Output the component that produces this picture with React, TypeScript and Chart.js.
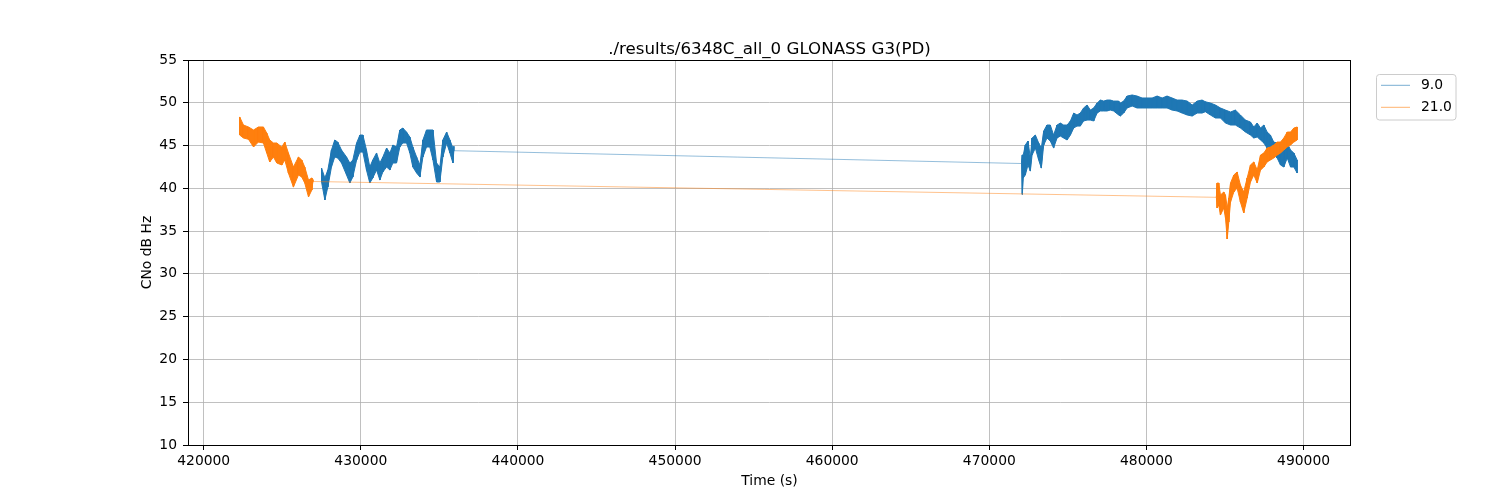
import React, { useEffect, useRef } from "react";
import { Chart, registerables } from "chart.js";

Chart.register(...registerables);

const chartTitle = "./results/6348C_all_0 GLONASS G3(PD)";
const xLabel = "Time (s)";
const yLabel = "CNo dB Hz";
const seriesNames = ["9.0", "21.0"];
const seriesColors = ["#1f77b4", "#ff7f0e"];
const xTicks = [420000, 430000, 440000, 450000, 460000, 470000, 480000, 490000];
const yTicks = [10, 15, 20, 25, 30, 35, 40, 45, 50, 55];
const xMin = 419000;
const xMax = 493018;
const yMin = 10;
const yMax = 55;

// Series "9.0": time of each sample step, upper and lower edge of the noisy trace
const g9Time = [
  427500, 427710, 427900, 428130, 428340, 428530, 428770, 429090, 429300, 429490,
  429730, 429940, 430130, 430360, 430570, 430760, 431000, 431210, 431400, 431640,
  431850, 432040, 432270, 432480, 432670, 432910, 433120, 433310, 433550, 433760,
  433950, 434180, 434390, 434590, 434820, 435030, 435220, 435460, 435670, 435860,
  435920,
  472050, 472100, 472160, 472290, 472460, 472610, 472720, 472930, 473140, 473310,
  473460, 473670, 473880, 474090, 474310, 474520, 474730, 474950, 475160, 475370,
  475580, 475790, 476000, 476220, 476430, 476640, 476860, 477070, 477280, 477490,
  477700, 477910, 478230, 478340, 478550, 478770, 479090, 479400, 479720, 480040,
  480360, 480680, 481000, 481310, 481630, 481950, 482270, 482590, 482910, 483230,
  483540, 483750, 484070, 484390, 484710, 485030, 485350, 485660, 485980, 486300,
  486620, 486830, 487050, 487260, 487470, 487680, 487890, 488100, 488320, 488530,
  488740, 488960, 489170, 489380, 489590,
];
const g9High = [
  42.37, 41.21, 42.14, 44.48, 45.65, 45.41, 44.48, 43.66, 42.96, 43.31,
  45.3, 46.23, 46.23, 44.48, 42.49, 43.31, 44.13, 42.96, 43.66, 44.71,
  44.13, 45.06, 44.83, 46.82, 47.05, 46.58, 46.0, 44.83, 43.66, 42.73,
  45.65, 46.82, 46.82, 46.82, 42.96, 42.49, 45.65, 46.58, 45.65, 44.71,
  44.9,
  42.9, 43.9, 43.89, 45.06, 45.53, 43.54, 45.88, 46.23, 45.3, 44.71,
  46.7, 47.4, 47.4, 46.23, 47.4, 47.63, 47.4, 47.4, 47.87, 48.8,
  48.57, 48.8, 49.39, 49.74, 49.15, 49.39, 49.97, 50.32, 50.2, 50.32,
  50.32, 50.2, 50.2, 49.97, 50.2, 50.79, 50.91, 50.79, 50.56, 50.56,
  50.56, 50.79, 50.56, 50.79, 50.56, 50.32, 50.32, 50.2, 49.74, 50.2,
  50.32, 50.12, 49.97, 49.74, 49.39, 49.15, 48.92, 49.15, 48.57, 47.98,
  47.75, 47.17, 47.63, 47.05, 47.4, 46.58, 46.23, 45.41, 45.3, 44.83,
  44.48, 45.3, 44.48, 44.13, 43.31,
];
const g9Low = [
  40.74, 38.64, 40.15, 42.49, 43.66, 43.54, 42.96, 41.56, 40.62, 41.32,
  43.31, 44.24, 44.24, 42.14, 40.62, 41.21, 42.14, 40.97, 41.91, 42.49,
  42.14, 42.96, 42.96, 44.83, 45.3, 45.3, 44.13, 42.49, 41.79, 41.32,
  43.66, 44.83, 44.83, 43.31, 40.74, 40.74, 43.66, 45.3, 44.13, 42.96,
  44.4,
  42.9, 39.3, 41.21, 41.56, 42.73, 42.02, 43.89, 44.71, 43.31, 42.37,
  45.06, 45.88, 45.53, 44.71, 45.88, 46.11, 45.88, 45.65, 46.23, 47.05,
  47.28, 47.28, 47.87, 47.98, 47.98, 47.87, 48.8, 49.04, 49.04, 49.04,
  49.15, 49.04, 48.57, 48.45, 48.8, 49.39, 49.62, 49.39, 49.39, 49.39,
  49.39, 49.39, 49.39, 49.39, 49.15, 49.04, 48.8, 48.57, 48.45, 48.8,
  48.8, 48.95, 48.57, 48.22, 48.22, 47.63, 47.4, 47.4, 47.05, 46.58,
  46.23, 45.88, 46.0, 45.65, 45.3, 44.71, 44.13, 43.89, 43.54, 42.73,
  42.49, 43.54, 42.49, 42.49, 41.79,
];

// Series "21.0"
const g21Time = [
  422290, 422530, 422850, 423170, 423480, 423800, 424010, 424200, 424440, 424650,
  424970, 425160, 425390, 425710, 426030, 426240, 426430, 426670, 426880, 426950,
  484450, 484500, 484600, 484710, 484920, 485030, 485140, 485240, 485350, 485560,
  485770, 485980, 486190, 486410, 486620, 486830, 487050, 487260, 487470, 487680,
  487890, 488100, 488320, 488530, 488740, 488960, 489170, 489380, 489590,
];
const g21High = [
  48.34, 47.4, 47.17, 46.82, 47.17, 47.17, 46.47, 45.65, 45.3, 45.3,
  44.83, 45.41, 44.13, 42.49, 43.66, 43.31, 42.49, 40.97, 41.21, 41.0,
  38.95, 40.62, 40.62, 39.22, 39.57, 39.22, 37.7, 38.87, 40.62, 41.56,
  41.91, 40.39, 39.57, 41.21, 42.73, 43.08, 42.14, 43.89, 44.13, 44.71,
  44.83, 45.06, 45.41, 45.41, 45.88, 46.58, 46.58, 47.05, 47.17,
];
const g21Low = [
  46.23, 45.88, 45.73, 44.83, 45.41, 45.3, 44.13, 43.08, 43.66, 42.96,
  42.73, 43.31, 41.79, 40.15, 41.56, 41.32, 40.62, 38.99, 39.8, 40.8,
  38.95, 37.7, 38.05, 36.88, 37.7, 36.53, 34.08, 36.06, 38.4, 39.57,
  40.04, 38.4, 37.12, 38.87, 40.74, 41.56, 40.62, 42.14, 42.49, 43.08,
  43.31, 43.54, 43.89, 44.13, 44.48, 44.83, 45.06, 45.41, 45.65,
];

const FONT = "'DejaVu Sans', Verdana, sans-serif";
const GAP = 5000;

type P = { x: number; y: number };

function tracePoints(t: number[], hi: number[], lo: number[]): P[] {
  const pts: P[] = [];
  for (let i = 0; i < t.length; i++) {
    pts.push({ x: t[i], y: hi[i] });
    pts.push({ x: t[i], y: lo[i] });
  }
  return pts;
}

// edge polyline of the band, broken (NaN) where the recording has a gap
function edgePoints(t: number[], v: number[]): P[] {
  const pts: P[] = [];
  for (let i = 0; i < t.length; i++) {
    if (i > 0 && t[i] - t[i - 1] > GAP) pts.push({ x: (t[i] + t[i - 1]) / 2, y: NaN });
    pts.push({ x: t[i], y: v[i] });
  }
  return pts;
}

function hexA(hex: string, a: number) {
  const r = parseInt(hex.slice(1, 3), 16);
  const g = parseInt(hex.slice(3, 5), 16);
  const b = parseInt(hex.slice(5, 7), 16);
  return `rgba(${r},${g},${b},${a})`;
}

const decorPlugin = {
  id: "decor",
  afterDraw(chart: any) {
    const { ctx, chartArea: a } = chart;
    ctx.save();
    ctx.strokeStyle = "#000";
    ctx.lineWidth = 1;
    const x0 = Math.floor(a.left) + 0.5;
    const y0 = Math.floor(a.top) + 0.5;
    const x1 = Math.ceil(a.right) - 0.5;
    const y1 = Math.floor(a.bottom) + 0.5;
    ctx.strokeRect(x0, y0, x1 - x0, y1 - y0);

    const cx = (a.left + a.right) / 2;
    const cy = (a.top + a.bottom) / 2;
    ctx.fillStyle = "#000";
    ctx.font = `16.67px ${FONT}`;
    ctx.textAlign = "center";
    ctx.textBaseline = "alphabetic";
    ctx.fillText(chartTitle, cx, 53.5);
    ctx.font = `13.89px ${FONT}`;
    ctx.textBaseline = "middle";
    ctx.fillText(xLabel, cx, 481);
    ctx.save();
    ctx.translate(147, cy);
    ctx.rotate(-Math.PI / 2);
    ctx.fillText(yLabel, 0, 0);
    ctx.restore();

    const lx = 1376.5, ly = 74.5, lw = 79.5, lh = 45.5, r = 3;
    ctx.beginPath();
    ctx.moveTo(lx + r, ly);
    ctx.lineTo(lx + lw - r, ly);
    ctx.quadraticCurveTo(lx + lw, ly, lx + lw, ly + r);
    ctx.lineTo(lx + lw, ly + lh - r);
    ctx.quadraticCurveTo(lx + lw, ly + lh, lx + lw - r, ly + lh);
    ctx.lineTo(lx + r, ly + lh);
    ctx.quadraticCurveTo(lx, ly + lh, lx, ly + lh - r);
    ctx.lineTo(lx, ly + r);
    ctx.quadraticCurveTo(lx, ly, lx + r, ly);
    ctx.closePath();
    ctx.fillStyle = "rgba(255,255,255,0.8)";
    ctx.fill();
    ctx.strokeStyle = "#cccccc";
    ctx.lineWidth = 1;
    ctx.stroke();

    const rows = [85.3, 107.3];
    seriesNames.forEach((name, i) => {
      ctx.strokeStyle = hexA(seriesColors[i], 0.75);
      ctx.lineWidth = 0.8;
      ctx.beginPath();
      ctx.moveTo(1381, rows[i]);
      ctx.lineTo(1410, rows[i]);
      ctx.stroke();
      ctx.fillStyle = "#000";
      ctx.font = `13.89px ${FONT}`;
      ctx.textAlign = "left";
      ctx.textBaseline = "middle";
      ctx.fillText(name, 1421, rows[i] + 0.5);
    });
    ctx.restore();
  },
};

function seriesDatasets(name: string, color: string, t: number[], hi: number[], lo: number[], order: number) {
  const base = { pointRadius: 0, tension: 0, order };
  return [
    {
      ...base,
      label: name,
      data: tracePoints(t, hi, lo),
      borderColor: color,
      borderWidth: 1,
      fill: false,
      segment: {
        borderWidth: (c: any) => (c.p1.parsed.x - c.p0.parsed.x > GAP ? 0.6 : 1),
        borderColor: (c: any) => (c.p1.parsed.x - c.p0.parsed.x > GAP ? hexA(color, 0.8) : color),
      },
    },
    {
      ...base,
      label: name + " upper",
      data: edgePoints(t, hi),
      borderColor: color,
      borderWidth: 1,
      backgroundColor: color,
      spanGaps: false,
      fill: "+1",
    },
    {
      ...base,
      label: name + " lower",
      data: edgePoints(t, lo),
      borderColor: color,
      borderWidth: 1,
      spanGaps: false,
      fill: false,
    },
  ];
}

export default function App() {
  const ref = useRef<HTMLCanvasElement | null>(null);

  useEffect(() => {
    if (!ref.current) return;
    const gridOpts = {
      color: "#b0b0b0",
      lineWidth: 0.8,
      drawTicks: true,
      tickLength: 5,
      tickColor: "#000",
      tickWidth: 1,
    };
    const chart = new Chart(ref.current, {
      type: "line",
      data: {
        datasets: [
          ...seriesDatasets(seriesNames[0], seriesColors[0], g9Time, g9High, g9Low, 1),
          ...seriesDatasets(seriesNames[1], seriesColors[1], g21Time, g21High, g21Low, 0),
        ],
      },
      options: {
        animation: false,
        responsive: false,
        devicePixelRatio: 1,
        parsing: false,
        layout: { padding: { left: 0, right: 149, top: 60, bottom: 0 } },
        plugins: {
          legend: { display: false },
          title: { display: false },
          tooltip: { enabled: false },
          filler: { propagate: false },
        },
        events: [],
        scales: {
          x: {
            type: "linear",
            min: xMin,
            max: xMax,
            afterFit: (s: any) => {
              s.height = 55;
            },
            afterBuildTicks: (s: any) => {
              s.ticks = xTicks.map((v) => ({ value: v }));
            },
            ticks: {
              color: "#000",
              font: { family: FONT, size: 13.89 },
              padding: 3,
              maxRotation: 0,
              autoSkip: false,
              callback: (v: any) => String(v),
            },
            grid: gridOpts,
            border: { display: false },
          },
          y: {
            type: "linear",
            min: yMin,
            max: yMax,
            afterFit: (s: any) => {
              s.width = 188;
            },
            afterBuildTicks: (s: any) => {
              s.ticks = yTicks.map((v) => ({ value: v }));
            },
            ticks: {
              color: "#000",
              font: { family: FONT, size: 13.89 },
              padding: 6,
              autoSkip: false,
              callback: (v: any) => String(v),
            },
            grid: gridOpts,
            border: { display: false },
          },
        },
      },
      plugins: [decorPlugin],
    } as any);
    return () => chart.destroy();
  }, []);

  return (
    <div style={{ position: "absolute", left: 0, top: 0, width: 1500, height: 500, background: "#fff" }}>
      <canvas ref={ref} width={1500} height={500} style={{ display: "block" }} />
    </div>
  );
}
